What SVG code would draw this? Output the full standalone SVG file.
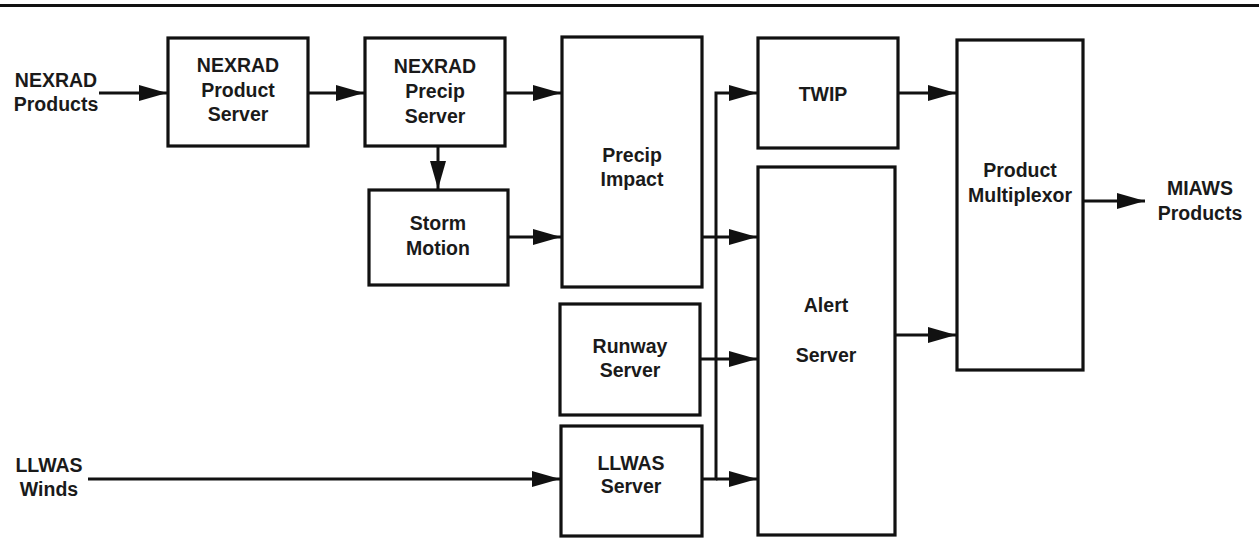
<svg xmlns="http://www.w3.org/2000/svg" width="1259" height="539" viewBox="0 0 1259 539">
<style>
.box{fill:#fff;stroke:#111;stroke-width:3.2}
.t{font-family:"Liberation Sans",Arial,sans-serif;font-weight:bold;font-size:19.5px;fill:#1a1a1a;text-anchor:middle}
.c{fill:none;stroke:#111;stroke-width:3}
</style>
<defs>
<marker id="ah" markerUnits="userSpaceOnUse" markerWidth="30" markerHeight="18" refX="28" refY="8" orient="auto">
<path d="M0,0 L28,8 L0,16 z" fill="#111"/>
</marker>
</defs>
<rect width="1259" height="539" fill="#fff"/>
<line x1="0" y1="5.5" x2="1259" y2="5.5" stroke="#111" stroke-width="3"/>

<g id="label-nexrad-products"><text class="t" x="56" y="87">NEXRAD</text><text class="t" x="56" y="111">Products</text></g>
<g id="label-llwas-winds"><text class="t" x="49" y="472">LLWAS</text><text class="t" x="49" y="496">Winds</text></g>
<g id="label-miaws-products"><text class="t" x="1200" y="195">MIAWS</text><text class="t" x="1200" y="220">Products</text></g>

<g id="nexrad-product-server"><rect class="box" x="168" y="38" width="140" height="108"/>
<text class="t" x="238" y="72">NEXRAD</text><text class="t" x="238" y="97">Product</text><text class="t" x="238" y="121">Server</text></g>
<g id="nexrad-precip-server"><rect class="box" x="365" y="38" width="140" height="108"/>
<text class="t" x="435" y="73">NEXRAD</text><text class="t" x="435" y="98">Precip</text><text class="t" x="435" y="123">Server</text></g>
<g id="storm-motion"><rect class="box" x="369" y="190" width="139" height="95"/>
<text class="t" x="438" y="230">Storm</text><text class="t" x="438" y="255">Motion</text></g>
<g id="precip-impact"><rect class="box" x="562" y="37" width="140" height="250"/>
<text class="t" x="632" y="162">Precip</text><text class="t" x="632" y="186">Impact</text></g>
<g id="runway-server"><rect class="box" x="560" y="304" width="140" height="111"/>
<text class="t" x="630" y="353">Runway</text><text class="t" x="630" y="377">Server</text></g>
<g id="llwas-server"><rect class="box" x="561" y="426" width="141" height="110"/>
<text class="t" x="631" y="470">LLWAS</text><text class="t" x="631" y="493">Server</text></g>
<g id="twip"><rect class="box" x="758" y="38" width="140" height="110"/>
<text class="t" x="823" y="101">TWIP</text></g>
<g id="alert-server"><rect class="box" x="758" y="167" width="137" height="368"/>
<text class="t" x="826" y="312">Alert</text><text class="t" x="826" y="362">Server</text></g>
<g id="product-multiplexor"><rect class="box" x="957" y="40" width="126" height="330"/>
<text class="t" x="1020" y="177">Product</text><text class="t" x="1020" y="202">Multiplexor</text></g>

<g id="connectors">
<line class="c" x1="99" y1="93" x2="167" y2="93" marker-end="url(#ah)"/>
<line class="c" x1="308" y1="93" x2="364" y2="93" marker-end="url(#ah)"/>
<line class="c" x1="505" y1="93" x2="561" y2="93" marker-end="url(#ah)"/>
<line class="c" x1="438" y1="146" x2="438" y2="189" marker-end="url(#ah)"/>
<line class="c" x1="508" y1="237" x2="561" y2="237" marker-end="url(#ah)"/>
<line class="c" x1="88" y1="479" x2="560" y2="479" marker-end="url(#ah)"/>
<polyline class="c" points="702,479 716,479 716,93 757,93" marker-end="url(#ah)"/>
<line class="c" x1="702" y1="237" x2="757" y2="237" marker-end="url(#ah)"/>
<line class="c" x1="700" y1="359" x2="757" y2="359" marker-end="url(#ah)"/>
<line class="c" x1="716" y1="479" x2="757" y2="479" marker-end="url(#ah)"/>
<line class="c" x1="898" y1="93" x2="956" y2="93" marker-end="url(#ah)"/>
<line class="c" x1="895" y1="335" x2="956" y2="335" marker-end="url(#ah)"/>
<line class="c" x1="1083" y1="201" x2="1145" y2="201" marker-end="url(#ah)"/>
</g>
</svg>
